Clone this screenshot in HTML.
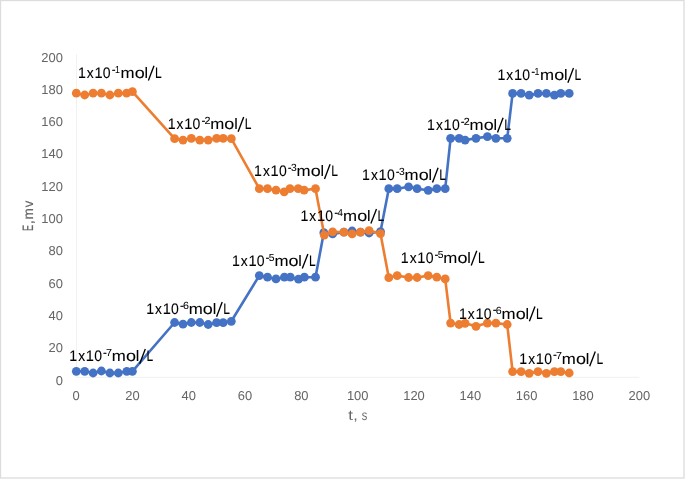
<!DOCTYPE html>
<html><head><meta charset="utf-8"><title>chart</title>
<style>html,body{margin:0;padding:0;background:#fff;}svg{display:block;filter:blur(0.45px);}text{white-space:pre;text-rendering:geometricPrecision;}</style>
</head><body>
<svg width="685" height="479" viewBox="0 0 685 479" font-family="'Liberation Sans', sans-serif">
<rect x="0" y="0" width="685" height="479" fill="#fff"/>
<rect x="0.5" y="0.5" width="683.5" height="477.5" fill="none" stroke="#dcdcdc" stroke-width="1.3"/>
<line x1="76.5" y1="54.2" x2="76.5" y2="377.3" stroke="#f1f1f1" stroke-width="1"/>
<line x1="76.3" y1="377.3" x2="639.4999999999999" y2="377.3" stroke="#f1f1f1" stroke-width="1"/>
<text x="62.9" y="61.50" font-size="12.95" fill="#666666" text-anchor="end">200</text>
<text x="62.9" y="93.81" font-size="12.95" fill="#666666" text-anchor="end">180</text>
<text x="62.9" y="126.12" font-size="12.95" fill="#666666" text-anchor="end">160</text>
<text x="62.9" y="158.43" font-size="12.95" fill="#666666" text-anchor="end">140</text>
<text x="62.9" y="190.74" font-size="12.95" fill="#666666" text-anchor="end">120</text>
<text x="62.9" y="223.05" font-size="12.95" fill="#666666" text-anchor="end">100</text>
<text x="62.9" y="255.36" font-size="12.95" fill="#666666" text-anchor="end">80</text>
<text x="62.9" y="287.67" font-size="12.95" fill="#666666" text-anchor="end">60</text>
<text x="62.9" y="319.98" font-size="12.95" fill="#666666" text-anchor="end">40</text>
<text x="62.9" y="352.29" font-size="12.95" fill="#666666" text-anchor="end">20</text>
<text x="62.9" y="384.60" font-size="12.95" fill="#666666" text-anchor="end">0</text>
<text x="76.10" y="400.4" font-size="12.95" fill="#666666" text-anchor="middle">0</text>
<text x="132.42" y="400.4" font-size="12.95" fill="#666666" text-anchor="middle">20</text>
<text x="188.74" y="400.4" font-size="12.95" fill="#666666" text-anchor="middle">40</text>
<text x="245.06" y="400.4" font-size="12.95" fill="#666666" text-anchor="middle">60</text>
<text x="301.38" y="400.4" font-size="12.95" fill="#666666" text-anchor="middle">80</text>
<text x="357.70" y="400.4" font-size="12.95" fill="#666666" text-anchor="middle">100</text>
<text x="414.02" y="400.4" font-size="12.95" fill="#666666" text-anchor="middle">120</text>
<text x="470.34" y="400.4" font-size="12.95" fill="#666666" text-anchor="middle">140</text>
<text x="526.66" y="400.4" font-size="12.95" fill="#666666" text-anchor="middle">160</text>
<text x="582.98" y="400.4" font-size="12.95" fill="#666666" text-anchor="middle">180</text>
<text x="639.30" y="400.4" font-size="12.95" fill="#666666" text-anchor="middle">200</text>
<g transform="translate(348.2,420)" fill="#666666"><text transform="translate(0.05,0) scale(1.186,1)" font-size="14.2">t</text><text transform="translate(4.94,0) scale(1.148,1)" font-size="14.2">,</text><text transform="translate(13.59,0) scale(0.775,1)" font-size="14.2">s</text></g>
<g transform="translate(32.6,230.5) rotate(-90)" fill="#666666"><text transform="translate(-0.56,0) scale(0.668,1.09)" font-size="13.8" stroke="#666666" stroke-width="0.2">E</text><text transform="translate(6.13,0) scale(1.108,1)" font-size="13.8" stroke="#666666" stroke-width="0.2">,</text><text transform="translate(10.89,0) scale(0.993,1)" font-size="13.8" stroke="#666666" stroke-width="0.2">m</text><text transform="translate(23.36,0) scale(0.940,1)" font-size="13.8" stroke="#666666" stroke-width="0.2">v</text></g>
<path d="M76.3,371.3 L84.7,371.3 L93.1,373.0 L101.4,371.0 L109.9,373.0 L118.3,373.0 L126.8,371.3 L132.4,371.3 L174.6,322.5 L183.0,324.2 L191.3,322.5 L199.8,322.5 L208.2,324.5 L216.6,322.7 L223.2,322.7 L231.3,321.3 L259.3,275.6 L267.5,277.2 L276.0,278.9 L284.4,277.2 L290.3,277.2 L298.5,279.2 L304.4,277.2 L315.5,277.2 L323.8,232.7 L332.6,233.9 L343.9,232.2 L352.1,231.0 L360.5,232.2 L369.1,233.0 L380.5,231.6 L388.8,188.7 L397.2,188.7 L408.6,186.8 L417.1,188.7 L428.2,190.3 L436.8,188.7 L445.2,188.7 L450.6,138.3 L459.1,138.3 L465.1,140.1 L476.0,138.3 L487.4,136.6 L495.9,138.3 L507.2,138.3 L512.6,93.4 L521.1,93.4 L529.2,95.2 L538.0,93.4 L546.4,93.4 L554.4,95.2 L560.8,93.4 L569.2,93.4" fill="none" stroke="#4472C4" stroke-width="2.6" stroke-linejoin="round" stroke-linecap="round"/>
<g fill="#4472C4"><circle cx="76.3" cy="371.3" r="4.4"/><circle cx="84.7" cy="371.3" r="4.4"/><circle cx="93.1" cy="373.0" r="4.4"/><circle cx="101.4" cy="371.0" r="4.4"/><circle cx="109.9" cy="373.0" r="4.4"/><circle cx="118.3" cy="373.0" r="4.4"/><circle cx="126.8" cy="371.3" r="4.4"/><circle cx="132.4" cy="371.3" r="4.4"/><circle cx="174.6" cy="322.5" r="4.4"/><circle cx="183.0" cy="324.2" r="4.4"/><circle cx="191.3" cy="322.5" r="4.4"/><circle cx="199.8" cy="322.5" r="4.4"/><circle cx="208.2" cy="324.5" r="4.4"/><circle cx="216.6" cy="322.7" r="4.4"/><circle cx="223.2" cy="322.7" r="4.4"/><circle cx="231.3" cy="321.3" r="4.4"/><circle cx="259.3" cy="275.6" r="4.4"/><circle cx="267.5" cy="277.2" r="4.4"/><circle cx="276.0" cy="278.9" r="4.4"/><circle cx="284.4" cy="277.2" r="4.4"/><circle cx="290.3" cy="277.2" r="4.4"/><circle cx="298.5" cy="279.2" r="4.4"/><circle cx="304.4" cy="277.2" r="4.4"/><circle cx="315.5" cy="277.2" r="4.4"/><circle cx="323.8" cy="232.7" r="4.4"/><circle cx="332.6" cy="233.9" r="4.4"/><circle cx="343.9" cy="232.2" r="4.4"/><circle cx="352.1" cy="231.0" r="4.4"/><circle cx="360.5" cy="232.2" r="4.4"/><circle cx="369.1" cy="233.0" r="4.4"/><circle cx="380.5" cy="231.6" r="4.4"/><circle cx="388.8" cy="188.7" r="4.4"/><circle cx="397.2" cy="188.7" r="4.4"/><circle cx="408.6" cy="186.8" r="4.4"/><circle cx="417.1" cy="188.7" r="4.4"/><circle cx="428.2" cy="190.3" r="4.4"/><circle cx="436.8" cy="188.7" r="4.4"/><circle cx="445.2" cy="188.7" r="4.4"/><circle cx="450.6" cy="138.3" r="4.4"/><circle cx="459.1" cy="138.3" r="4.4"/><circle cx="465.1" cy="140.1" r="4.4"/><circle cx="476.0" cy="138.3" r="4.4"/><circle cx="487.4" cy="136.6" r="4.4"/><circle cx="495.9" cy="138.3" r="4.4"/><circle cx="507.2" cy="138.3" r="4.4"/><circle cx="512.6" cy="93.4" r="4.4"/><circle cx="521.1" cy="93.4" r="4.4"/><circle cx="529.2" cy="95.2" r="4.4"/><circle cx="538.0" cy="93.4" r="4.4"/><circle cx="546.4" cy="93.4" r="4.4"/><circle cx="554.4" cy="95.2" r="4.4"/><circle cx="560.8" cy="93.4" r="4.4"/><circle cx="569.2" cy="93.4" r="4.4"/></g>
<path d="M76.3,93.2 L84.7,95.0 L93.1,93.2 L101.4,93.2 L109.9,95.0 L118.3,93.2 L126.6,93.2 L132.4,91.7 L174.6,138.7 L183.0,140.1 L191.3,138.3 L199.8,140.1 L208.2,140.1 L216.6,138.3 L223.2,138.3 L231.3,138.7 L259.3,188.7 L267.5,188.7 L276.0,190.1 L284.2,191.8 L290.0,188.7 L298.2,188.7 L304.1,190.1 L315.5,188.7 L324.3,235.1 L332.6,231.8 L343.9,232.2 L352.1,233.9 L360.5,232.2 L369.1,230.6 L380.5,233.7 L388.8,277.7 L397.2,275.6 L408.6,277.5 L417.1,277.5 L428.2,275.6 L436.8,277.2 L445.2,278.9 L450.6,323.1 L459.1,324.5 L465.1,323.3 L476.0,326.3 L487.4,323.1 L495.9,323.1 L507.2,324.5 L512.6,371.6 L521.1,371.6 L529.2,373.3 L538.0,371.6 L546.4,373.3 L554.4,371.6 L560.8,371.6 L569.2,373.0" fill="none" stroke="#ED7D31" stroke-width="2.6" stroke-linejoin="round" stroke-linecap="round"/>
<g fill="#ED7D31"><circle cx="76.3" cy="93.2" r="4.4"/><circle cx="84.7" cy="95.0" r="4.4"/><circle cx="93.1" cy="93.2" r="4.4"/><circle cx="101.4" cy="93.2" r="4.4"/><circle cx="109.9" cy="95.0" r="4.4"/><circle cx="118.3" cy="93.2" r="4.4"/><circle cx="126.6" cy="93.2" r="4.4"/><circle cx="132.4" cy="91.7" r="4.4"/><circle cx="174.6" cy="138.7" r="4.4"/><circle cx="183.0" cy="140.1" r="4.4"/><circle cx="191.3" cy="138.3" r="4.4"/><circle cx="199.8" cy="140.1" r="4.4"/><circle cx="208.2" cy="140.1" r="4.4"/><circle cx="216.6" cy="138.3" r="4.4"/><circle cx="223.2" cy="138.3" r="4.4"/><circle cx="231.3" cy="138.7" r="4.4"/><circle cx="259.3" cy="188.7" r="4.4"/><circle cx="267.5" cy="188.7" r="4.4"/><circle cx="276.0" cy="190.1" r="4.4"/><circle cx="284.2" cy="191.8" r="4.4"/><circle cx="290.0" cy="188.7" r="4.4"/><circle cx="298.2" cy="188.7" r="4.4"/><circle cx="304.1" cy="190.1" r="4.4"/><circle cx="315.5" cy="188.7" r="4.4"/><circle cx="324.3" cy="235.1" r="4.4"/><circle cx="332.6" cy="231.8" r="4.4"/><circle cx="343.9" cy="232.2" r="4.4"/><circle cx="352.1" cy="233.9" r="4.4"/><circle cx="360.5" cy="232.2" r="4.4"/><circle cx="369.1" cy="230.6" r="4.4"/><circle cx="380.5" cy="233.7" r="4.4"/><circle cx="388.8" cy="277.7" r="4.4"/><circle cx="397.2" cy="275.6" r="4.4"/><circle cx="408.6" cy="277.5" r="4.4"/><circle cx="417.1" cy="277.5" r="4.4"/><circle cx="428.2" cy="275.6" r="4.4"/><circle cx="436.8" cy="277.2" r="4.4"/><circle cx="445.2" cy="278.9" r="4.4"/><circle cx="450.6" cy="323.1" r="4.4"/><circle cx="459.1" cy="324.5" r="4.4"/><circle cx="465.1" cy="323.3" r="4.4"/><circle cx="476.0" cy="326.3" r="4.4"/><circle cx="487.4" cy="323.1" r="4.4"/><circle cx="495.9" cy="323.1" r="4.4"/><circle cx="507.2" cy="324.5" r="4.4"/><circle cx="512.6" cy="371.6" r="4.4"/><circle cx="521.1" cy="371.6" r="4.4"/><circle cx="529.2" cy="373.3" r="4.4"/><circle cx="538.0" cy="371.6" r="4.4"/><circle cx="546.4" cy="373.3" r="4.4"/><circle cx="554.4" cy="371.6" r="4.4"/><circle cx="560.8" cy="371.6" r="4.4"/><circle cx="569.2" cy="373.0" r="4.4"/></g>
<g fill="#000"><text transform="translate(78.02,77.80) scale(0.931,1)" font-size="15.2" stroke="#000" stroke-width="0.08">1</text><text transform="translate(86.84,77.80) scale(0.908,1)" font-size="15.2" stroke="#000" stroke-width="0.08">x</text><text transform="translate(94.49,77.80) scale(0.961,1)" font-size="15.2" stroke="#000" stroke-width="0.08">1</text><text transform="translate(102.85,77.80) scale(0.922,1)" font-size="15.2" stroke="#000" stroke-width="0.08">0</text><text transform="translate(111.94,72.50) scale(1.024,1)" font-size="10.0" stroke="#000" stroke-width="0.3">-</text><text transform="translate(115.03,72.70) scale(0.856,1)" font-size="10.3" stroke="#000" stroke-width="0.05">1</text><text transform="translate(120.48,77.80) scale(1.108,1)" font-size="15.2" stroke="#000" stroke-width="0.08">m</text><text transform="translate(134.64,77.80) scale(1.184,1)" font-size="15.2" stroke="#000" stroke-width="0.08">o</text><text transform="translate(144.43,77.80) scale(1.048,1)" font-size="15.2" stroke="#000" stroke-width="0.08">l</text><text transform="translate(155.11,77.80) scale(0.791,1)" font-size="15.2" stroke="#000" stroke-width="0.08">L</text><line x1="148.40" y1="80.40" x2="154.00" y2="65.70" stroke="#000" stroke-width="1.35"/></g>
<g fill="#000"><text transform="translate(167.72,129.20) scale(0.931,1)" font-size="15.2" stroke="#000" stroke-width="0.08">1</text><text transform="translate(176.54,129.20) scale(0.908,1)" font-size="15.2" stroke="#000" stroke-width="0.08">x</text><text transform="translate(184.19,129.20) scale(0.961,1)" font-size="15.2" stroke="#000" stroke-width="0.08">1</text><text transform="translate(192.55,129.20) scale(0.922,1)" font-size="15.2" stroke="#000" stroke-width="0.08">0</text><text transform="translate(201.65,123.90) scale(1.024,1)" font-size="10.0" stroke="#000" stroke-width="0.3">-</text><text transform="translate(204.46,124.10) scale(1.044,1)" font-size="10.3" stroke="#000" stroke-width="0.05">2</text><text transform="translate(210.18,129.20) scale(1.108,1)" font-size="15.2" stroke="#000" stroke-width="0.08">m</text><text transform="translate(224.34,129.20) scale(1.184,1)" font-size="15.2" stroke="#000" stroke-width="0.08">o</text><text transform="translate(234.13,129.20) scale(1.048,1)" font-size="15.2" stroke="#000" stroke-width="0.08">l</text><text transform="translate(244.81,129.20) scale(0.791,1)" font-size="15.2" stroke="#000" stroke-width="0.08">L</text><line x1="238.10" y1="131.80" x2="243.70" y2="117.10" stroke="#000" stroke-width="1.35"/></g>
<g fill="#000"><text transform="translate(254.12,176.40) scale(0.931,1)" font-size="15.2" stroke="#000" stroke-width="0.08">1</text><text transform="translate(262.94,176.40) scale(0.908,1)" font-size="15.2" stroke="#000" stroke-width="0.08">x</text><text transform="translate(270.59,176.40) scale(0.961,1)" font-size="15.2" stroke="#000" stroke-width="0.08">1</text><text transform="translate(278.95,176.40) scale(0.922,1)" font-size="15.2" stroke="#000" stroke-width="0.08">0</text><text transform="translate(288.05,171.10) scale(1.024,1)" font-size="10.0" stroke="#000" stroke-width="0.3">-</text><text transform="translate(291.01,171.30) scale(1.003,1)" font-size="10.3" stroke="#000" stroke-width="0.05">3</text><text transform="translate(296.58,176.40) scale(1.108,1)" font-size="15.2" stroke="#000" stroke-width="0.08">m</text><text transform="translate(310.74,176.40) scale(1.184,1)" font-size="15.2" stroke="#000" stroke-width="0.08">o</text><text transform="translate(320.53,176.40) scale(1.048,1)" font-size="15.2" stroke="#000" stroke-width="0.08">l</text><text transform="translate(331.21,176.40) scale(0.791,1)" font-size="15.2" stroke="#000" stroke-width="0.08">L</text><line x1="324.50" y1="179.00" x2="330.10" y2="164.30" stroke="#000" stroke-width="1.35"/></g>
<g fill="#000"><text transform="translate(300.52,221.00) scale(0.931,1)" font-size="15.2" stroke="#000" stroke-width="0.08">1</text><text transform="translate(309.34,221.00) scale(0.908,1)" font-size="15.2" stroke="#000" stroke-width="0.08">x</text><text transform="translate(316.99,221.00) scale(0.961,1)" font-size="15.2" stroke="#000" stroke-width="0.08">1</text><text transform="translate(325.35,221.00) scale(0.922,1)" font-size="15.2" stroke="#000" stroke-width="0.08">0</text><text transform="translate(334.45,215.70) scale(1.024,1)" font-size="10.0" stroke="#000" stroke-width="0.3">-</text><text transform="translate(337.58,215.90) scale(0.944,1)" font-size="10.3" stroke="#000" stroke-width="0.05">4</text><text transform="translate(342.98,221.00) scale(1.108,1)" font-size="15.2" stroke="#000" stroke-width="0.08">m</text><text transform="translate(357.14,221.00) scale(1.184,1)" font-size="15.2" stroke="#000" stroke-width="0.08">o</text><text transform="translate(366.93,221.00) scale(1.048,1)" font-size="15.2" stroke="#000" stroke-width="0.08">l</text><text transform="translate(377.61,221.00) scale(0.791,1)" font-size="15.2" stroke="#000" stroke-width="0.08">L</text><line x1="370.90" y1="223.60" x2="376.50" y2="208.90" stroke="#000" stroke-width="1.35"/></g>
<g fill="#000"><text transform="translate(400.82,262.80) scale(0.931,1)" font-size="15.2" stroke="#000" stroke-width="0.08">1</text><text transform="translate(409.64,262.80) scale(0.908,1)" font-size="15.2" stroke="#000" stroke-width="0.08">x</text><text transform="translate(417.29,262.80) scale(0.961,1)" font-size="15.2" stroke="#000" stroke-width="0.08">1</text><text transform="translate(425.65,262.80) scale(0.922,1)" font-size="15.2" stroke="#000" stroke-width="0.08">0</text><text transform="translate(434.75,257.50) scale(1.024,1)" font-size="10.0" stroke="#000" stroke-width="0.3">-</text><text transform="translate(437.69,257.70) scale(1.003,1)" font-size="10.3" stroke="#000" stroke-width="0.05">5</text><text transform="translate(443.28,262.80) scale(1.108,1)" font-size="15.2" stroke="#000" stroke-width="0.08">m</text><text transform="translate(457.44,262.80) scale(1.184,1)" font-size="15.2" stroke="#000" stroke-width="0.08">o</text><text transform="translate(467.23,262.80) scale(1.048,1)" font-size="15.2" stroke="#000" stroke-width="0.08">l</text><text transform="translate(477.91,262.80) scale(0.791,1)" font-size="15.2" stroke="#000" stroke-width="0.08">L</text><line x1="471.20" y1="265.40" x2="476.80" y2="250.70" stroke="#000" stroke-width="1.35"/></g>
<g fill="#000"><text transform="translate(459.02,318.60) scale(0.931,1)" font-size="15.2" stroke="#000" stroke-width="0.08">1</text><text transform="translate(467.84,318.60) scale(0.908,1)" font-size="15.2" stroke="#000" stroke-width="0.08">x</text><text transform="translate(475.49,318.60) scale(0.961,1)" font-size="15.2" stroke="#000" stroke-width="0.08">1</text><text transform="translate(483.85,318.60) scale(0.922,1)" font-size="15.2" stroke="#000" stroke-width="0.08">0</text><text transform="translate(492.95,313.30) scale(1.024,1)" font-size="10.0" stroke="#000" stroke-width="0.3">-</text><text transform="translate(495.76,313.50) scale(1.031,1)" font-size="10.3" stroke="#000" stroke-width="0.05">6</text><text transform="translate(501.48,318.60) scale(1.108,1)" font-size="15.2" stroke="#000" stroke-width="0.08">m</text><text transform="translate(515.64,318.60) scale(1.184,1)" font-size="15.2" stroke="#000" stroke-width="0.08">o</text><text transform="translate(525.43,318.60) scale(1.048,1)" font-size="15.2" stroke="#000" stroke-width="0.08">l</text><text transform="translate(536.11,318.60) scale(0.791,1)" font-size="15.2" stroke="#000" stroke-width="0.08">L</text><line x1="529.40" y1="321.20" x2="535.00" y2="306.50" stroke="#000" stroke-width="1.35"/></g>
<g fill="#000"><text transform="translate(519.32,363.70) scale(0.931,1)" font-size="15.2" stroke="#000" stroke-width="0.08">1</text><text transform="translate(528.14,363.70) scale(0.908,1)" font-size="15.2" stroke="#000" stroke-width="0.08">x</text><text transform="translate(535.79,363.70) scale(0.961,1)" font-size="15.2" stroke="#000" stroke-width="0.08">1</text><text transform="translate(544.15,363.70) scale(0.922,1)" font-size="15.2" stroke="#000" stroke-width="0.08">0</text><text transform="translate(553.24,358.40) scale(1.024,1)" font-size="10.0" stroke="#000" stroke-width="0.3">-</text><text transform="translate(556.05,358.60) scale(1.046,1)" font-size="10.3" stroke="#000" stroke-width="0.05">7</text><text transform="translate(561.78,363.70) scale(1.108,1)" font-size="15.2" stroke="#000" stroke-width="0.08">m</text><text transform="translate(575.94,363.70) scale(1.184,1)" font-size="15.2" stroke="#000" stroke-width="0.08">o</text><text transform="translate(585.73,363.70) scale(1.048,1)" font-size="15.2" stroke="#000" stroke-width="0.08">l</text><text transform="translate(596.41,363.70) scale(0.791,1)" font-size="15.2" stroke="#000" stroke-width="0.08">L</text><line x1="589.70" y1="366.30" x2="595.30" y2="351.60" stroke="#000" stroke-width="1.35"/></g>
<g fill="#000"><text transform="translate(69.32,361.10) scale(0.931,1)" font-size="15.2" stroke="#000" stroke-width="0.08">1</text><text transform="translate(78.14,361.10) scale(0.908,1)" font-size="15.2" stroke="#000" stroke-width="0.08">x</text><text transform="translate(85.79,361.10) scale(0.961,1)" font-size="15.2" stroke="#000" stroke-width="0.08">1</text><text transform="translate(94.15,361.10) scale(0.922,1)" font-size="15.2" stroke="#000" stroke-width="0.08">0</text><text transform="translate(103.25,355.80) scale(1.024,1)" font-size="10.0" stroke="#000" stroke-width="0.3">-</text><text transform="translate(106.05,356.00) scale(1.046,1)" font-size="10.3" stroke="#000" stroke-width="0.05">7</text><text transform="translate(111.78,361.10) scale(1.108,1)" font-size="15.2" stroke="#000" stroke-width="0.08">m</text><text transform="translate(125.94,361.10) scale(1.184,1)" font-size="15.2" stroke="#000" stroke-width="0.08">o</text><text transform="translate(135.73,361.10) scale(1.048,1)" font-size="15.2" stroke="#000" stroke-width="0.08">l</text><text transform="translate(146.41,361.10) scale(0.791,1)" font-size="15.2" stroke="#000" stroke-width="0.08">L</text><line x1="139.70" y1="363.70" x2="145.30" y2="349.00" stroke="#000" stroke-width="1.35"/></g>
<g fill="#000"><text transform="translate(146.22,314.10) scale(0.931,1)" font-size="15.2" stroke="#000" stroke-width="0.08">1</text><text transform="translate(155.04,314.10) scale(0.908,1)" font-size="15.2" stroke="#000" stroke-width="0.08">x</text><text transform="translate(162.69,314.10) scale(0.961,1)" font-size="15.2" stroke="#000" stroke-width="0.08">1</text><text transform="translate(171.05,314.10) scale(0.922,1)" font-size="15.2" stroke="#000" stroke-width="0.08">0</text><text transform="translate(180.15,308.80) scale(1.024,1)" font-size="10.0" stroke="#000" stroke-width="0.3">-</text><text transform="translate(182.96,309.00) scale(1.031,1)" font-size="10.3" stroke="#000" stroke-width="0.05">6</text><text transform="translate(188.68,314.10) scale(1.108,1)" font-size="15.2" stroke="#000" stroke-width="0.08">m</text><text transform="translate(202.84,314.10) scale(1.184,1)" font-size="15.2" stroke="#000" stroke-width="0.08">o</text><text transform="translate(212.63,314.10) scale(1.048,1)" font-size="15.2" stroke="#000" stroke-width="0.08">l</text><text transform="translate(223.31,314.10) scale(0.791,1)" font-size="15.2" stroke="#000" stroke-width="0.08">L</text><line x1="216.60" y1="316.70" x2="222.20" y2="302.00" stroke="#000" stroke-width="1.35"/></g>
<g fill="#000"><text transform="translate(231.92,266.00) scale(0.931,1)" font-size="15.2" stroke="#000" stroke-width="0.08">1</text><text transform="translate(240.74,266.00) scale(0.908,1)" font-size="15.2" stroke="#000" stroke-width="0.08">x</text><text transform="translate(248.39,266.00) scale(0.961,1)" font-size="15.2" stroke="#000" stroke-width="0.08">1</text><text transform="translate(256.75,266.00) scale(0.922,1)" font-size="15.2" stroke="#000" stroke-width="0.08">0</text><text transform="translate(265.85,260.70) scale(1.024,1)" font-size="10.0" stroke="#000" stroke-width="0.3">-</text><text transform="translate(268.79,260.90) scale(1.003,1)" font-size="10.3" stroke="#000" stroke-width="0.05">5</text><text transform="translate(274.38,266.00) scale(1.108,1)" font-size="15.2" stroke="#000" stroke-width="0.08">m</text><text transform="translate(288.54,266.00) scale(1.184,1)" font-size="15.2" stroke="#000" stroke-width="0.08">o</text><text transform="translate(298.33,266.00) scale(1.048,1)" font-size="15.2" stroke="#000" stroke-width="0.08">l</text><text transform="translate(309.01,266.00) scale(0.791,1)" font-size="15.2" stroke="#000" stroke-width="0.08">L</text><line x1="302.30" y1="268.60" x2="307.90" y2="253.90" stroke="#000" stroke-width="1.35"/></g>
<g fill="#000"><text transform="translate(362.12,179.80) scale(0.931,1)" font-size="15.2" stroke="#000" stroke-width="0.08">1</text><text transform="translate(370.94,179.80) scale(0.908,1)" font-size="15.2" stroke="#000" stroke-width="0.08">x</text><text transform="translate(378.59,179.80) scale(0.961,1)" font-size="15.2" stroke="#000" stroke-width="0.08">1</text><text transform="translate(386.95,179.80) scale(0.922,1)" font-size="15.2" stroke="#000" stroke-width="0.08">0</text><text transform="translate(396.05,174.50) scale(1.024,1)" font-size="10.0" stroke="#000" stroke-width="0.3">-</text><text transform="translate(399.01,174.70) scale(1.003,1)" font-size="10.3" stroke="#000" stroke-width="0.05">3</text><text transform="translate(404.58,179.80) scale(1.108,1)" font-size="15.2" stroke="#000" stroke-width="0.08">m</text><text transform="translate(418.74,179.80) scale(1.184,1)" font-size="15.2" stroke="#000" stroke-width="0.08">o</text><text transform="translate(428.53,179.80) scale(1.048,1)" font-size="15.2" stroke="#000" stroke-width="0.08">l</text><text transform="translate(439.21,179.80) scale(0.791,1)" font-size="15.2" stroke="#000" stroke-width="0.08">L</text><line x1="432.50" y1="182.40" x2="438.10" y2="167.70" stroke="#000" stroke-width="1.35"/></g>
<g fill="#000"><text transform="translate(427.12,129.80) scale(0.931,1)" font-size="15.2" stroke="#000" stroke-width="0.08">1</text><text transform="translate(435.94,129.80) scale(0.908,1)" font-size="15.2" stroke="#000" stroke-width="0.08">x</text><text transform="translate(443.59,129.80) scale(0.961,1)" font-size="15.2" stroke="#000" stroke-width="0.08">1</text><text transform="translate(451.95,129.80) scale(0.922,1)" font-size="15.2" stroke="#000" stroke-width="0.08">0</text><text transform="translate(461.05,124.50) scale(1.024,1)" font-size="10.0" stroke="#000" stroke-width="0.3">-</text><text transform="translate(463.86,124.70) scale(1.044,1)" font-size="10.3" stroke="#000" stroke-width="0.05">2</text><text transform="translate(469.58,129.80) scale(1.108,1)" font-size="15.2" stroke="#000" stroke-width="0.08">m</text><text transform="translate(483.74,129.80) scale(1.184,1)" font-size="15.2" stroke="#000" stroke-width="0.08">o</text><text transform="translate(493.53,129.80) scale(1.048,1)" font-size="15.2" stroke="#000" stroke-width="0.08">l</text><text transform="translate(504.21,129.80) scale(0.791,1)" font-size="15.2" stroke="#000" stroke-width="0.08">L</text><line x1="497.50" y1="132.40" x2="503.10" y2="117.70" stroke="#000" stroke-width="1.35"/></g>
<g fill="#000"><text transform="translate(497.52,80.10) scale(0.931,1)" font-size="15.2" stroke="#000" stroke-width="0.08">1</text><text transform="translate(506.34,80.10) scale(0.908,1)" font-size="15.2" stroke="#000" stroke-width="0.08">x</text><text transform="translate(513.99,80.10) scale(0.961,1)" font-size="15.2" stroke="#000" stroke-width="0.08">1</text><text transform="translate(522.35,80.10) scale(0.922,1)" font-size="15.2" stroke="#000" stroke-width="0.08">0</text><text transform="translate(531.44,74.80) scale(1.024,1)" font-size="10.0" stroke="#000" stroke-width="0.3">-</text><text transform="translate(534.53,75.00) scale(0.856,1)" font-size="10.3" stroke="#000" stroke-width="0.05">1</text><text transform="translate(539.98,80.10) scale(1.108,1)" font-size="15.2" stroke="#000" stroke-width="0.08">m</text><text transform="translate(554.14,80.10) scale(1.184,1)" font-size="15.2" stroke="#000" stroke-width="0.08">o</text><text transform="translate(563.93,80.10) scale(1.048,1)" font-size="15.2" stroke="#000" stroke-width="0.08">l</text><text transform="translate(574.61,80.10) scale(0.791,1)" font-size="15.2" stroke="#000" stroke-width="0.08">L</text><line x1="567.90" y1="82.70" x2="573.50" y2="68.00" stroke="#000" stroke-width="1.35"/></g>
</svg>
</body></html>
